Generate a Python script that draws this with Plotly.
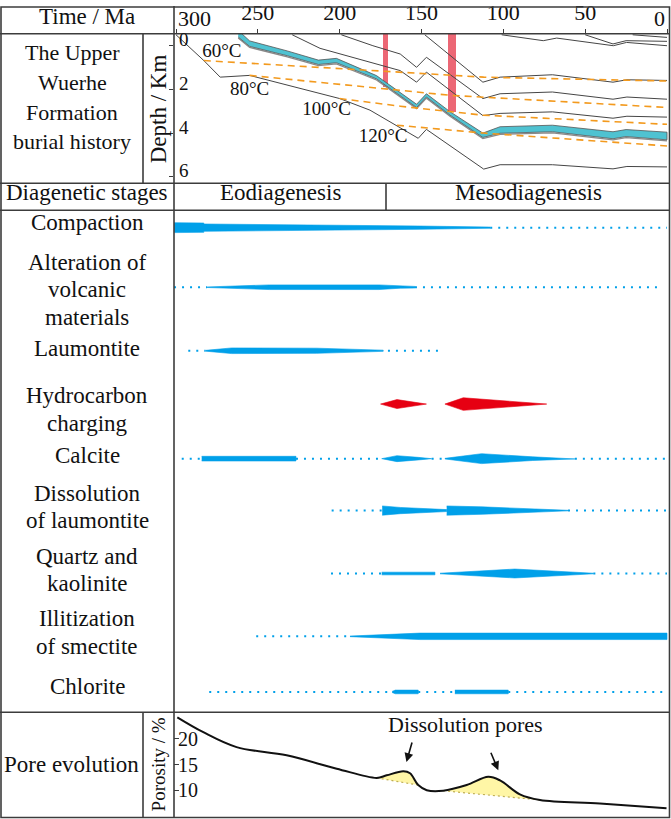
import plotly.graph_objects as go

W, H = 671, 819
SERIF = 'Liberation Serif, Times New Roman, serif'
BLUE = '#00A0E9'
RED = '#E60012'
GRID = '#3C3C3C'
CURVE = '#454545'

# ---------------- burial history: time (Ma) / depth (km)
TIME_TICKS = [300, 250, 200, 150, 100, 50, 0]
DEPTH_TICKS = [0, 2, 4, 6]

LINE_A_T = [300, 283, 273, 255, 200, 181.5, 152, 147, 112, 102, 70, 33, 24.5, 0]
LINE_A_D = [-0.5, 0.68, 1.44, 1.36, 2.42, 2.95, 4.24, 3.83, 5.65, 5.45, 5.45, 5.64, 5.53, 5.55]
LINE_F_T = [229, 212, 163, 153, 147, 112.5, 102, 70, 33, 24.5, 0]
LINE_F_D = [-0.5, 0.12, 1.14, 1.67, 1.21, 3.2, 3.1, 3.03, 3.32, 3.23, 3.27]
LINE_E_T = [199, 179.7, 163, 153, 147, 112.5, 102, 70, 33, 24.5, 0]
LINE_E_D = [-0.5, 0.0, 0.38, 0.99, 0.53, 2.42, 2.2, 2.12, 2.45, 2.35, 2.45]
LINE_D_T = [148, 112.5, 102, 70, 33, 24.5, 0]
LINE_D_D = [-0.5, 1.67, 1.44, 1.33, 1.67, 1.56, 1.59]
LINE_T1_T = [101, 75.6, 67.4, 32.8, 24.7, 0]
LINE_T1_D = [-0.5, -0.23, -0.35, 0.0, -0.15, 0.0]
LINE_T2_T = [50, 33, 25, 0]
LINE_T2_D = [-0.5, -0.08, -0.23, -0.2]
LINE_T3_T = [21, 0]
LINE_T3_D = [-0.5, -0.38]

# Upper Wuerhe Formation (blue band)
BAND_T = [262, 255, 232, 213, 202, 177.5, 153, 147, 132.6, 112.5, 102, 70, 33, 25, 0]
BAND_TOP = [-0.7, -0.22, 0.24, 0.66, 0.58, 1.37, 2.68, 2.2, 3.02, 4.0, 3.71, 3.64, 3.94, 3.84, 3.96]
BAND_BASE = [-0.4, 0.03, 0.46, 0.86, 0.78, 1.52, 2.83, 2.35, 3.18, 4.2, 4.01, 3.94, 4.26, 4.16, 4.31]

# isotherms
ISO_60_T, ISO_60_D = [283, 163, 112, 0], [0.68, 1.21, 1.44, 1.62]
ISO_80_T, ISO_80_D = [255, 163, 132.6, 0], [1.36, 2.05, 2.27, 2.83]
ISO_100_T, ISO_100_D = [200, 163, 112.5, 0], [2.42, 2.77, 3.18, 3.6]
ISO_120_T, ISO_120_D = [165, 112.5, 0], [3.64, 4.0, 4.59]
ISO_LABELS = ['60°C', '80°C', '100°C', '120°C']
ISO_LABEL_T = [272, 255, 208, 173.5]
ISO_LABEL_D = [0.32, 2.05, 2.95, 4.17]

# hydrocarbon charging periods (red bars)
CHARGE_T = [171.8, 131.5]
CHARGE_WIDTH = [3, 5]
CHARGE_DEPTH = [1.9, 3.03]

# ---------------- diagenetic stages: lens outlines (time, thickness)
STAGES = ['Compaction', 'Alteration of<br>volcanic<br>materials', 'Laumontite',
          'Hydrocarbon<br>charging', 'Calcite', 'Dissolution<br>of laumontite',
          'Quartz and<br>kaolinite', 'Illitization<br>of smectite', 'Chlorite']

COMPACTION_LENSES = [([301.2, 283, 283, 222, 151, 108], [10, 9.4, 7.4, 6, 3.3, 1.2])]
COMPACTION_DOTS = [[108, 0]]
ALTERATION_LENSES = [([281, 243, 176, 163, 154], [0.6, 4.7, 4.7, 2, 1.6])]
ALTERATION_DOTS = [[301.2, 281], [154, 3]]
LAUMONTITE_LENSES = [([282, 266, 214, 195, 173.4], [0.8, 5.7, 5.2, 3.2, 1.2])]
LAUMONTITE_DOTS = [[292.5, 282], [170.5, 138.7]]
HYDROCARBON_LENSES = [([175, 165, 147], [0, 9, 0]), ([135.7, 124.5, 73.5], [0, 12.7, 0])]
HYDROCARBON_DOTS = []
CALCITE_LENSES = [([284.3, 226.7], [4.7, 4.7]),
                  ([174.3, 165, 152, 143.8], [0, 6, 2.6, 0]),
                  ([135.7, 113.3, 82, 56.3], [0.6, 10, 3.7, 0.6])]
CALCITE_DOTS = [[296.5, 284.3], [226.7, 174.3], [143.8, 135.7], [56.3, 0]]
DISSOLUTION_LENSES = [([174, 163, 134.6], [9.3, 6.3, 2]),
                      ([134.6, 113, 60.5], [9.3, 7.5, 0.6])]
DISSOLUTION_DOTS = [[204.9, 174], [60.5, 0]]
QUARTZ_LENSES = [([174.3, 141.8], [2.7, 2.7]), ([138.7, 93, 45], [0.6, 9, 0.6])]
QUARTZ_DOTS = [[205.3, 174.3], [45, 0]]
ILLITE_LENSES = [([193.7, 151, 0], [0.6, 6.5, 6.5])]
ILLITE_DOTS = [[251, 193.7]]
CHLORITE_LENSES = [([168, 166, 152], [1, 3.7, 3.7]), ([129.6, 97], [3.7, 3.7])]
CHLORITE_DOTS = [[279.7, 167.2], [152, 129.6], [97, 0]]

# ---------------- pore evolution: porosity (%)
PORE_T = [299.2, 283.3, 263, 232.4, 201.8, 177.4, 171.3, 161.1, 157, 152, 146.8,
          136.8, 122.4, 109.2, 102, 89.9, 77.6, 41, 0.3]
PORE_PHI = [24.2, 21.3, 18.4, 16.8, 14.2, 12.4, 12.9, 13.7, 13.3, 11, 10,
            9.9, 11, 12.6, 11.9, 9.2, 8.1, 7.4, 6.5]
DISSOLVED_RANGES = [[177.4, 152], [136.8, 77.6]]
POROSITY_TICKS = [10, 15, 20]

# ---------------- layout in pixels
ROW_Y = [223.3, 283.3, 347.3, 401, 456, 508.3, 571.7, 635, 691]
LABEL_Y = [222, 290, 349, 410.5, 457, 508.5, 572.5, 635, 690]
STAGE_ROWS = [
    (COMPACTION_LENSES, COMPACTION_DOTS, BLUE),
    (ALTERATION_LENSES, ALTERATION_DOTS, BLUE),
    (LAUMONTITE_LENSES, LAUMONTITE_DOTS, BLUE),
    (HYDROCARBON_LENSES, HYDROCARBON_DOTS, RED),
    (CALCITE_LENSES, CALCITE_DOTS, BLUE),
    (DISSOLUTION_LENSES, DISSOLUTION_DOTS, BLUE),
    (QUARTZ_LENSES, QUARTZ_DOTS, BLUE),
    (ILLITE_LENSES, ILLITE_DOTS, BLUE),
    (CHLORITE_LENSES, CHLORITE_DOTS, BLUE),
]


def px(x):
    return x / W


def py(y):
    return 1 - y / H


def t_of(x):
    return 300 - (x - 176) / 1.6367


fig = go.Figure()

# burial history
fig.add_trace(go.Bar(x=CHARGE_T, y=[d + 0.6 for d in CHARGE_DEPTH], base=-0.6,
                     width=CHARGE_WIDTH, marker=dict(color='#EC6775', line_width=0),
                     xaxis='x', yaxis='y'))
for tt, dd in [(LINE_A_T, LINE_A_D), (LINE_F_T, LINE_F_D), (LINE_E_T, LINE_E_D),
               (LINE_D_T, LINE_D_D), (LINE_T1_T, LINE_T1_D), (LINE_T2_T, LINE_T2_D),
               (LINE_T3_T, LINE_T3_D)]:
    fig.add_trace(go.Scatter(x=tt, y=dd, mode='lines', line=dict(color=CURVE, width=1),
                             xaxis='x', yaxis='y'))
fig.add_trace(go.Scatter(x=BAND_T, y=[b + 0.05 for b in BAND_BASE], mode='lines',
                         line=dict(color='#8A8A8A', width=1.3), xaxis='x', yaxis='y'))
fig.add_trace(go.Scatter(x=BAND_T + BAND_T[::-1], y=BAND_TOP + BAND_BASE[::-1],
                         fill='toself', fillcolor='#4FC2D1', mode='lines',
                         line=dict(color='#555555', width=0.8), xaxis='x', yaxis='y'))
for tt, dd in [(ISO_60_T, ISO_60_D), (ISO_80_T, ISO_80_D),
               (ISO_100_T, ISO_100_D), (ISO_120_T, ISO_120_D)]:
    fig.add_trace(go.Scatter(x=tt, y=dd, mode='lines',
                             line=dict(color='#F39A1E', width=1.6, dash='7px,5px'),
                             xaxis='x', yaxis='y'))
fig.add_trace(go.Scatter(x=ISO_LABEL_T, y=ISO_LABEL_D, mode='text', text=ISO_LABELS,
                         textfont=dict(family=SERIF, size=19, color='#111'),
                         xaxis='x', yaxis='y'))

# diagenetic stages
for (lenses, dots, color), yc in zip(STAGE_ROWS, ROW_Y):
    for seg in dots:
        fig.add_trace(go.Scatter(x=seg, y=[yc, yc], mode='lines',
                                 line=dict(color=color, width=2, dash='2px,6px'),
                                 xaxis='x2', yaxis='y2'))
    for tt, ww in lenses:
        top = [yc - w / 2 for w in ww]
        bot = [yc + w / 2 for w in ww]
        fig.add_trace(go.Scatter(x=tt + tt[::-1], y=top + bot[::-1], fill='toself',
                                 fillcolor=color, mode='lines',
                                 line=dict(color=color, width=0.6),
                                 xaxis='x2', yaxis='y2'))

# pore evolution
for t0, t1 in DISSOLVED_RANGES:
    seg = [(t, p) for t, p in zip(PORE_T, PORE_PHI) if t0 >= t >= t1]
    fig.add_trace(go.Scatter(x=[s[0] for s in seg], y=[s[1] for s in seg], fill='toself',
                             fillcolor='#FFF6A6', mode='lines', line=dict(width=0),
                             line_shape='spline', xaxis='x3', yaxis='y3'))
    fig.add_trace(go.Scatter(x=[seg[0][0], seg[-1][0]], y=[seg[0][1], seg[-1][1]],
                             mode='lines', line=dict(color='#BFAE55', width=1.2, dash='2px,3px'),
                             xaxis='x3', yaxis='y3'))
fig.add_trace(go.Scatter(x=PORE_T, y=PORE_PHI, mode='lines', line_shape='spline',
                         line=dict(color='#111', width=2), xaxis='x3', yaxis='y3'))

time_range = [t_of(174), t_of(669)]
xdom = [px(174), px(669)]
hidden = dict(visible=False, range=time_range, domain=xdom)
tickfont = dict(family=SERIF, size=22, color='#111')

fig.update_layout(
    width=W, height=H, margin=dict(l=0, r=0, t=0, b=0),
    paper_bgcolor='white', plot_bgcolor='rgba(0,0,0,0)', showlegend=False,
    font=dict(family=SERIF, color='#111'),
    xaxis=dict(domain=xdom, range=time_range, anchor='y', side='top',
               tickvals=TIME_TICKS, ticktext=[''] + [str(v) for v in TIME_TICKS[1:-1]] + [''],
               ticks='outside', ticklen=4, tickcolor=GRID, tickwidth=1.2,
               showgrid=False, zeroline=False, showline=False, tickfont=tickfont),
    yaxis=dict(domain=[py(178.5), py(28)], range=[(178.5 - 40) / 22, (28 - 40) / 22],
               anchor='x', tickvals=DEPTH_TICKS, ticktext=[''] * len(DEPTH_TICKS),
               ticks='outside', ticklen=4, tickcolor=GRID,
               showgrid=False, zeroline=False, showline=False),
    xaxis2=dict(hidden, anchor='y2'),
    yaxis2=dict(visible=False, domain=[py(711.5), py(205.7)], range=[711.5, 205.7], anchor='x2'),
    xaxis3=dict(hidden, anchor='y3'),
    yaxis3=dict(domain=[py(817), py(711.5)],
                range=[20 - (817 - 738.3) / 5.17, 20 + (738.3 - 711.5) / 5.17],
                anchor='x3', tickvals=POROSITY_TICKS, ticks='inside', ticklen=5,
                tickcolor=GRID, ticklabelposition='inside', showgrid=False,
                zeroline=False, showline=False, tickfont=dict(family=SERIF, size=20, color='#111')),
    bargap=0,
)

# table grid
lw = 1.6
shapes = [dict(type='rect', xref='paper', yref='paper', x0=px(1), x1=px(669.5),
               y0=py(817.5), y1=py(1), line=dict(color=GRID, width=lw))]
for y in [28, 178.5, 205.7, 711.5]:
    shapes.append(dict(type='line', xref='paper', yref='paper', x0=0, x1=px(669.5),
                       y0=py(y), y1=py(y), line=dict(color=GRID, width=lw)))
for x, y0, y1 in [(174, 0, 817.5), (143, 28, 178.5), (143, 711.5, 817.5), (386, 178.5, 205.7)]:
    shapes.append(dict(type='line', xref='paper', yref='paper', x0=px(x), x1=px(x),
                       y0=py(y0), y1=py(y1), line=dict(color=GRID, width=lw)))
fig.update_layout(shapes=shapes)

ann = []
LIFT = 4      # plotly centres text slightly below its optical middle


def label(text, x, y, size=23, angle=0, leading=27.5):
    lines = text.split('<br>') if angle == 0 else [text]
    for i, line in enumerate(lines):
        yy = y + (i - (len(lines) - 1) / 2) * leading - (LIFT if angle == 0 else 0)
        ann.append(dict(text=line, x=px(x), y=py(yy), xref='paper', yref='paper',
                        xanchor='center', yanchor='middle',
                        showarrow=False, textangle=angle, align='center',
                        font=dict(family=SERIF, size=size, color='#111')))


label('Time / Ma', 87, 15)
label('The Upper<br>Wuerhe<br>Formation<br>burial history', 72, 96, size=22, leading=30)
label('Depth / Km', 158, 104, angle=-90)
label('Diagenetic stages', 87, 192)
label('Eodiagenesis', 280, 192)
label('Mesodiagenesis', 528, 192)
for name, yc in zip(STAGES, LABEL_Y):
    label(name, 87, yc)
label('Pore evolution', 71, 768)
label('Porosity / %', 158, 764, size=19, angle=-90)

# depth tick labels sit inside the panel, next to their ticks
for d in DEPTH_TICKS:
    ann.append(dict(text=str(d), x=px(177), xref='paper', y=d, yref='y',
                    xanchor='left', yanchor='middle', yshift=6, showarrow=False,
                    font=dict(family=SERIF, size=19, color='#111')))

# end tick labels of the time scale
ann.append(dict(text=str(TIME_TICKS[0]), x=TIME_TICKS[0], xref='x', y=py(13), yref='paper',
                xanchor='left', yanchor='middle', showarrow=False, font=tickfont))
ann.append(dict(text=str(TIME_TICKS[-1]), x=TIME_TICKS[-1], xref='x', y=py(13), yref='paper',
                xanchor='right', yanchor='middle', showarrow=False, font=tickfont))

# dissolution pores
ann.append(dict(text='Dissolution pores', x=t_of(465), y=py(724), xref='x3', yref='paper',
                xanchor='center', yanchor='middle',
                showarrow=False, font=dict(family=SERIF, size=22, color='#111')))
for hx, hy, ax, ay in [(159.2, 15.5, 6, -21), (103.1, 13.9, -8, -19)]:
    ann.append(dict(x=hx, y=hy, xref='x3', yref='y3', ax=ax, ay=ay, text='',
                    showarrow=True, arrowhead=2, arrowsize=1.1, arrowwidth=1.6,
                    arrowcolor='#111'))
fig.update_layout(annotations=ann)

fig.write_html("out.html", config={'displayModeBar': False},
               post_script="document.body.style.margin='0';")
